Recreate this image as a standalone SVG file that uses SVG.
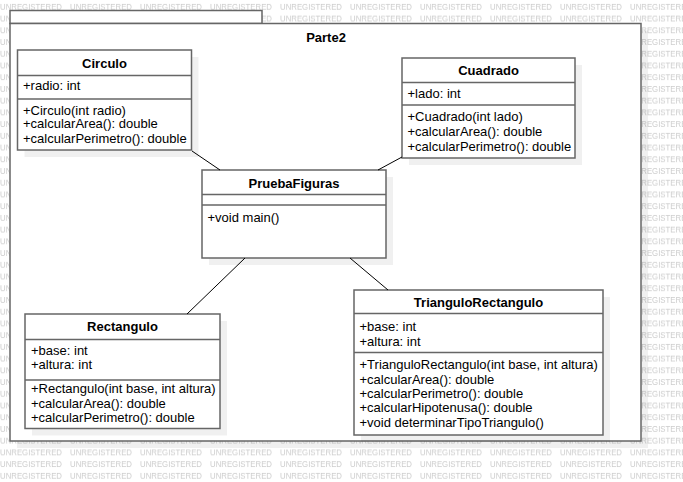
<svg xmlns="http://www.w3.org/2000/svg" width="683" height="482" viewBox="0 0 683 482">
<style>
.wm{font-family:"Liberation Sans",Arial,sans-serif;font-size:8px;fill:#cccccc}
.box{fill:#fff;stroke:#666;stroke-width:1.5}
.sh{fill:#000;fill-opacity:0.06}
.div{stroke:#666;stroke-width:1.5}
.t{font-family:"Liberation Sans",Arial,sans-serif;font-size:13px;fill:#000}
.b{font-weight:bold;text-anchor:middle}
.conn line{stroke:#000;stroke-width:1}
</style>
<defs>
<pattern id="wm" patternUnits="userSpaceOnUse" width="70" height="11.725">
<text class="wm" x="0" y="9.9" textLength="62" lengthAdjust="spacingAndGlyphs">UNREGISTERED</text>
</pattern>
</defs>
<rect width="683" height="482" fill="#fff"/>
<rect width="683" height="482" fill="url(#wm)"/>

<g id="parte2">
<rect class="sh" x="17" y="30.5" width="631" height="417.5"/>
<rect class="box" x="10" y="10.5" width="252" height="13"/>
<rect class="box" x="10" y="23.5" width="631" height="417.5"/>
<text class="t b" x="326" y="41.5">Parte2</text>
</g>

<g id="circulo">
<rect class="sh" x="24.5" y="57" width="174" height="100"/>
<rect class="box" x="17.5" y="50" width="174" height="100"/>
<text class="t b" x="104.5" y="67.5">Circulo</text>
<line class="div" x1="17.5" y1="75.5" x2="191.5" y2="75.5"/>
<text class="t" x="23" y="90">+radio: int</text>
<line class="div" x1="17.5" y1="99" x2="191.5" y2="99"/>
<text class="t" x="23" y="114.5">+Circulo(int radio)</text>
<text class="t" x="23" y="128">+calcularArea(): double</text>
<text class="t" x="23" y="142.5">+calcularPerimetro(): double</text>
</g>

<g id="cuadrado">
<rect class="sh" x="409" y="65" width="173" height="100"/>
<rect class="box" x="402" y="58" width="173" height="100"/>
<text class="t b" x="488.5" y="75">Cuadrado</text>
<line class="div" x1="402" y1="82.5" x2="575" y2="82.5"/>
<text class="t" x="407.5" y="98">+lado: int</text>
<line class="div" x1="402" y1="105" x2="575" y2="105"/>
<text class="t" x="407.5" y="121">+Cuadrado(int lado)</text>
<text class="t" x="407.5" y="135.5">+calcularArea(): double</text>
<text class="t" x="407.5" y="151">+calcularPerimetro(): double</text>
</g>

<g id="pruebafiguras">
<rect class="sh" x="209" y="177" width="184" height="88"/>
<rect class="box" x="202" y="170" width="184" height="88"/>
<text class="t b" x="294" y="187.5">PruebaFiguras</text>
<line class="div" x1="202" y1="194.5" x2="386" y2="194.5"/>
<line class="div" x1="202" y1="205" x2="386" y2="205"/>
<text class="t" x="207.5" y="222">+void main()</text>
</g>

<g id="rectangulo">
<rect class="sh" x="32" y="321" width="195" height="114.5"/>
<rect class="box" x="25" y="314" width="195" height="114.5"/>
<text class="t b" x="122.5" y="330.5">Rectangulo</text>
<line class="div" x1="25" y1="339.5" x2="220" y2="339.5"/>
<text class="t" x="31" y="354.5">+base: int</text>
<text class="t" x="31" y="368.5">+altura: int</text>
<line class="div" x1="25" y1="380" x2="220" y2="380"/>
<text class="t" x="31" y="393">+Rectangulo(int base, int altura)</text>
<text class="t" x="31" y="407.5">+calcularArea(): double</text>
<text class="t" x="31" y="422">+calcularPerimetro(): double</text>
</g>

<g id="triangulorectangulo">
<rect class="sh" x="361" y="297" width="249" height="145"/>
<rect class="box" x="354" y="290" width="249" height="145"/>
<text class="t b" x="478.5" y="307">TrianguloRectangulo</text>
<line class="div" x1="354" y1="313.5" x2="603" y2="313.5"/>
<text class="t" x="359.5" y="330.5">+base: int</text>
<text class="t" x="359.5" y="345.5">+altura: int</text>
<line class="div" x1="354" y1="352.5" x2="603" y2="352.5"/>
<text class="t" x="359.5" y="368.5">+TrianguloRectangulo(int base, int altura)</text>
<text class="t" x="359.5" y="383.5">+calcularArea(): double</text>
<text class="t" x="359.5" y="397.5">+calcularPerimetro(): double</text>
<text class="t" x="359.5" y="412">+calcularHipotenusa(): double</text>
<text class="t" x="359.5" y="427">+void determinarTipoTriangulo()</text>
</g>

<g id="connectors" class="conn">
<line x1="192" y1="151" x2="220" y2="170"/>
<line x1="402" y1="157" x2="378" y2="170"/>
<line x1="245" y1="258" x2="187" y2="314"/>
<line x1="350" y1="258" x2="388" y2="290"/>
</g>
</svg>
